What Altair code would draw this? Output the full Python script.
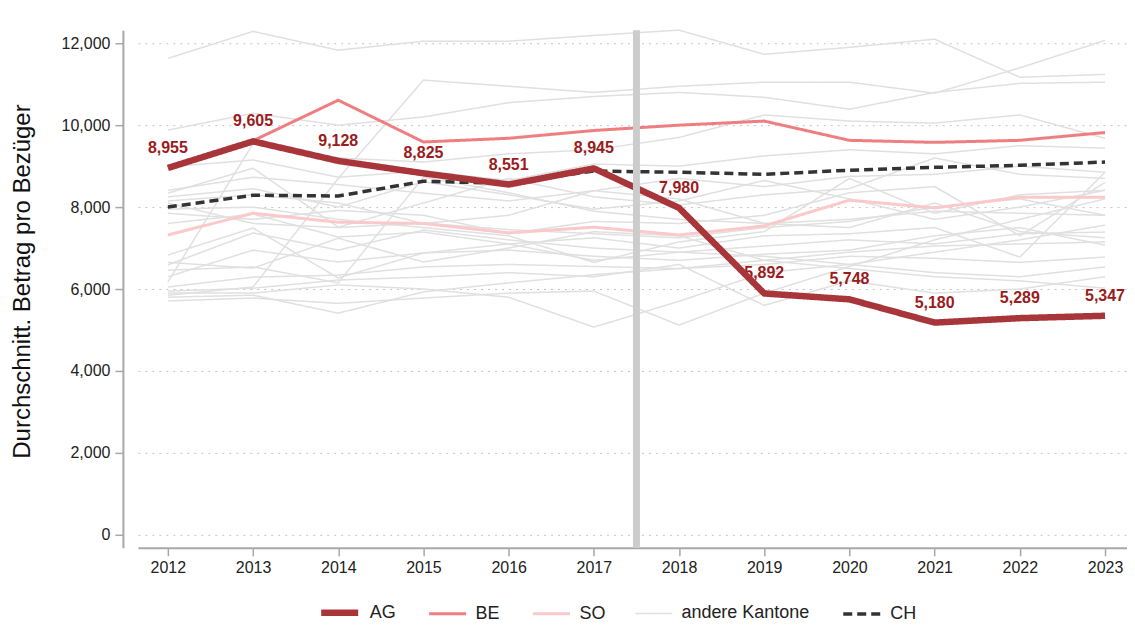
import altair as alt
import pandas as pd

years = list(range(2012, 2024))

ag = [8955, 9605, 9128, 8825, 8551, 8945, 7980, 5892, 5748, 5180, 5289, 5347]
be = [8980, 9620, 10610, 9590, 9680, 9870, 10000, 10100, 9630, 9580, 9630, 9820]
so = [7320, 7850, 7630, 7600, 7370, 7510, 7320, 7540, 8170, 7980, 8240, 8240]
ch = [8000, 8290, 8270, 8630, 8580, 8880, 8850, 8800, 8900, 8970, 9020, 9100]

others = {
    "G01": [11630, 12290, 11830, 12050, 12050, 12190, 12320, 11730, 11900, 12100, 11170, 11240],
    "G02": [5850, 6050, 8700, 11100, 10950, 10800, 10950, 11050, 11050, 10780, 11400, 12070],
    "G03": [9880, 10290, 10000, 10200, 10550, 10700, 10800, 10680, 10390, 10800, 11020, 11050],
    "G04": [6170, 9550, 9200, 9100, 9300, 9400, 9700, 10250, 10100, 10050, 10250, 9680],
    "G05": [8980, 9150, 8730, 8880, 8650, 9050, 9000, 9250, 9400, 9300, 9500, 9440],
    "G06": [8410, 8730, 8550, 8340, 8150, 8400, 8700, 8500, 8750, 8800, 9000, 8850],
    "G07": [8340, 8950, 7510, 8100, 8700, 8250, 8050, 8300, 8450, 9200, 8800, 8700],
    "G08": [8250, 8450, 8000, 8620, 8300, 7950, 8150, 8650, 8200, 7700, 8000, 8410],
    "G09": [7850, 7700, 7920, 7800, 7350, 7650, 7600, 7800, 8350, 8500, 7300, 8600],
    "G10": [6460, 6540, 6150, 8730, 8350, 7900, 7700, 7600, 7700, 7900, 7850, 7800],
    "G11": [5800, 5850, 5410, 5930, 6150, 6350, 6500, 6700, 6900, 7050, 7100, 7150],
    "G12": [5900, 5900, 6100, 6000, 5800, 5070, 5700, 6400, 6600, 6900, 7200, 7560],
    "G13": [5710, 5780, 5650, 5780, 5900, 5950, 5120, 5900, 6550, 7200, 7700, 8200],
    "G14": [6830, 7490, 6270, 6880, 7100, 7250, 7000, 7300, 7350, 7500, 6780, 8850],
    "G15": [6590, 7370, 6950, 7440, 7200, 7000, 6900, 7050, 7200, 7100, 7350, 7390],
    "G16": [6300, 6950, 6660, 6880, 6950, 6800, 6700, 6850, 6950, 7300, 7500, 7070],
    "G17": [6050, 6290, 6340, 6540, 6600, 6550, 6500, 6600, 6800, 6750, 6650, 6780],
    "G18": [7600, 7830, 7270, 7390, 7100, 6700, 6900, 6800, 6600, 6400, 6300, 6540],
    "G19": [6650, 6510, 7240, 6660, 7000, 7400, 7300, 6700, 6500, 6300, 6200, 6020],
    "G20": [8150, 8300, 8100, 7600, 7800, 8400, 8200, 7600, 7500, 8100, 7400, 7250],
    "G21": [5950, 6020, 6220, 6290, 6400, 6300, 6600, 5600, 6200, 5900, 6000, 6300],
    "G22": [7950, 8000, 7700, 7500, 7300, 6650, 7150, 7400, 8700, 7850, 8300, 8410],
    "G23": [8100, 7600, 7500, 7610, 7450, 7350, 7250, 7500, 7650, 8000, 8200, 7800],
}

cats = ["AG", "BE", "SO", "andere Kantone", "CH"]
colors = ["#a8353a", "#ee7e80", "#fbc9c9", "#e0e0e0", "#333333"]
widths = [6.5, 3, 3, 1.5, 3.5]
dashes = [[1, 0], [1, 0], [1, 0], [1, 0], [9, 5]]
y_ticks = [0, 2000, 4000, 6000, 8000, 10000, 12000]

rows = []
for name, vals in [("AG", ag), ("BE", be), ("SO", so), ("CH", ch)]:
    for yr, v in zip(years, vals):
        rows.append({"Jahr": yr, "Wert": v, "Serie": name, "Kanton": name})
for k, vals in others.items():
    for yr, v in zip(years, vals):
        rows.append({"Jahr": yr, "Wert": v, "Serie": "andere Kantone", "Kanton": k})
df = pd.DataFrame(rows)

FONT = "Liberation Sans"

leg = alt.Legend(
    title=None, orient="none", legendX=180, legendY=561, direction="horizontal",
    symbolType="stroke", symbolSize=1369, labelFont=FONT, labelFontSize=18,
    labelColor="#222222", labelOffset=8, columnPadding=26,
)

x_enc = alt.X(
    "Jahr:Q",
    scale=alt.Scale(domain=[2011.648, 2023.258], nice=False, zero=False),
    axis=alt.Axis(values=years, format="d", title=None, grid=False, tickSize=8,
                  labelFontSize=16, labelFont=FONT, labelColor="#222222", labelPadding=4,
                  domainColor="#a8a8a8", domainWidth=2, tickColor="#a8a8a8", tickWidth=1.5),
)
y_enc = alt.Y(
    "Wert:Q",
    scale=alt.Scale(domain=[-317, 12317], nice=False, zero=False),
    axis=alt.Axis(values=y_ticks, format=",d", title="Durchschnitt. Betrag pro Bezüger",
                  titleFont=FONT, titleFontSize=24, titleFontWeight="normal", titleColor="#111111",
                  titlePadding=27, titleY=251, offset=15, tickSize=8,
                  labelFontSize=16, labelFont=FONT, labelColor="#222222", labelPadding=5,
                  grid=True, gridColor="#c4c4c4", gridDash=[2, 5], gridWidth=1,
                  domainColor="#a8a8a8", domainWidth=2, tickColor="#a8a8a8", tickWidth=1.5),
)
color_enc = alt.Color("Serie:N", scale=alt.Scale(domain=cats, range=colors), legend=leg)
width_enc = alt.StrokeWidth("Serie:N", scale=alt.Scale(type="ordinal", domain=cats, range=widths), legend=leg)
dash_enc = alt.StrokeDash("Serie:N", scale=alt.Scale(domain=cats, range=dashes), legend=leg)

base = alt.Chart(df)


def line_layer(cond):
    return base.transform_filter(cond).mark_line(strokeJoin="round").encode(
        x=x_enc, y=y_enc, color=color_enc, strokeWidth=width_enc, strokeDash=dash_enc,
        detail="Kanton:N",
    )


grey = line_layer(alt.datum.Serie == "andere Kantone")
so_l = line_layer(alt.datum.Serie == "SO")
be_l = line_layer(alt.datum.Serie == "BE")
ch_l = line_layer(alt.datum.Serie == "CH")
ag_l = line_layer(alt.datum.Serie == "AG")

labels = base.transform_filter(alt.datum.Serie == "AG").mark_text(
    dy=-20, fontWeight="bold", fontSize=16, font=FONT, color="#9a1c20"
).encode(x=x_enc, y=y_enc, text=alt.Text("Wert:Q", format=",d"))

vline = alt.Chart(pd.DataFrame({"x": [2017.5]})).mark_rule(color="#cccccc", strokeWidth=7).encode(
    x=alt.X("x:Q")
)

chart = alt.layer(grey, so_l, be_l, ch_l, labels, ag_l, vline).properties(
    width=990, height=518,
    autosize=alt.AutoSizeParams(type="none"),
    padding={"left": 130, "top": 22, "right": 0, "bottom": 77},
    background="white",
).configure_view(stroke=None)

chart.save("out.html", embed_options={"renderer": "svg", "actions": False})
